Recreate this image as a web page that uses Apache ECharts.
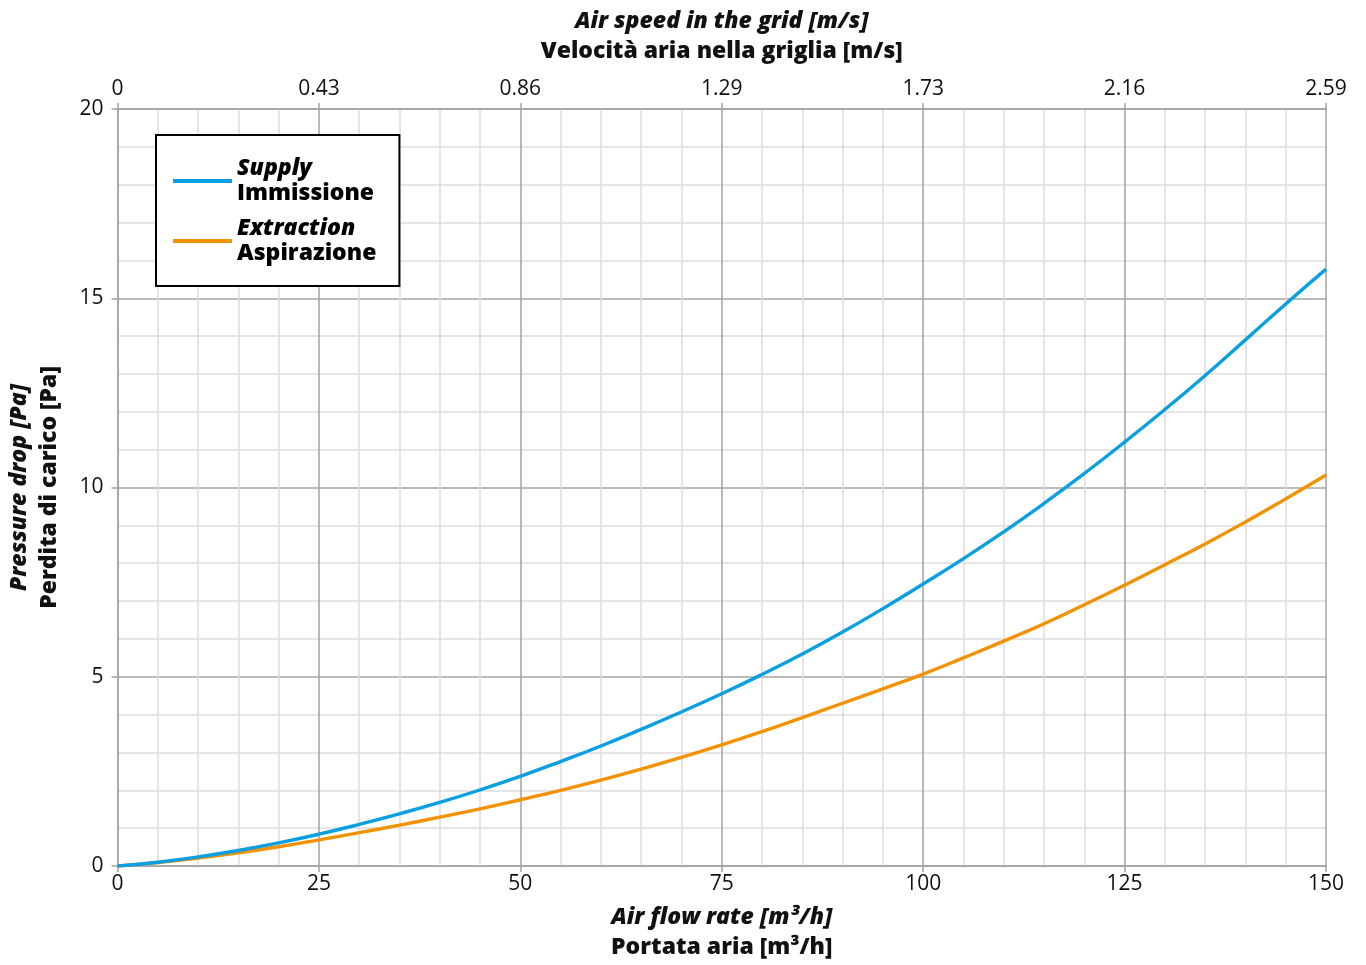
<!DOCTYPE html>
<html>
<head>
<meta charset="utf-8">
<script src="https://cdn.jsdelivr.net/npm/echarts@6/dist/echarts.min.js"></script>
<style>
html,body{margin:0;padding:0;background:#fff;}
#chart{width:1366px;height:965px;}
</style>
</head>
<body>
<div id="chart"></div>
<script>
const flowRates = [0,5,10,15,20,25,30,35,40,45,50,55,60,65,70,75,80,85,90,95,100,105,110,115,120,125,130,135,140,145,150];
const supplyValues = [0,0.1,0.24,0.41,0.61,0.84,1.1,1.38,1.68,2.01,2.37,2.76,3.17,3.61,4.07,4.55,5.06,5.6,6.18,6.8,7.45,8.12,8.83,9.58,10.37,11.2,12.06,12.96,13.9,14.85,15.77];
const extractionValues = [0,0.09,0.21,0.35,0.51,0.69,0.88,1.08,1.29,1.51,1.75,2.0,2.27,2.56,2.87,3.2,3.55,3.92,4.3,4.68,5.07,5.5,5.94,6.4,6.9,7.42,7.96,8.51,9.09,9.7,10.33];
const speedTickLabels = ['0','0.43','0.86','1.29','1.73','2.16','2.59'];
const seriesNames = [['Supply','Immissione'],['Extraction','Aspirazione']];

const FONT = '"Open Sans", "Noto Sans", sans-serif';
const majorLine = {lineStyle:{color:'#a3a3a3', width:1.5}};
const minorLine = {lineStyle:{color:'#dddddd', width:1.5}};

const chart = echarts.init(document.getElementById('chart'), null, {renderer:'canvas'});
const nameRich = {
  a:{fontFamily:FONT, fontSize:23, fontWeight:800, fontStyle:'italic', color:'#111', lineHeight:30},
  b:{fontFamily:FONT, fontSize:23, fontWeight:800, color:'#111', lineHeight:30}
};
chart.setOption({
  animation:false,
  backgroundColor:'#fff',
  grid:{left:116, right:40, top:109, bottom:99, containLabel:false},
  legend:{
    orient:'vertical', left:156, top:135,
    padding:[22,23,21,17],
    backgroundColor:'#fff', borderColor:'#000', borderWidth:2,
    itemWidth:59, itemHeight:4, itemGap:12,
    icon:'rect',
    formatter:function(name){
      const idx = name === seriesNames[0][0] ? 0 : 1;
      return '{a|' + seriesNames[idx][0] + '}\n{b|' + seriesNames[idx][1] + '}';
    },
    textStyle:{
      rich:{
        a:{fontFamily:FONT, fontSize:23, fontWeight:800, fontStyle:'italic', color:'#000', lineHeight:25},
        b:{fontFamily:FONT, fontSize:23, fontWeight:800, color:'#000', lineHeight:25}
      }
    },
    data:[seriesNames[0][0], seriesNames[1][0]]
  },
  xAxis:[
    {
      type:'value', position:'bottom', min:0, max:150, interval:25,
      axisLine:{show:true, lineStyle:{color:'#a3a3a3', width:1.5}},
      axisTick:{show:true, length:6, lineStyle:{color:'#a3a3a3', width:1.5}},
      axisLabel:{fontFamily:FONT, fontSize:21, color:'#111', margin:8},
      splitLine:{show:true, ...majorLine},
      minorTick:{show:false, splitNumber:5},
      minorSplitLine:{show:true, ...minorLine},
      name:'{a|Air flow rate [m³/h]}\n{b|Portata aria [m³/h]}',
      nameLocation:'middle', nameGap:36,
      nameTextStyle:{rich:nameRich}
    },
    {
      type:'value', position:'top', min:0, max:150, interval:25,
      axisLine:{show:true, lineStyle:{color:'#a3a3a3', width:1.5}},
      axisTick:{show:true, length:6, lineStyle:{color:'#a3a3a3', width:1.5}},
      axisLabel:{fontFamily:FONT, fontSize:21, color:'#111', margin:9,
        formatter:function(v){ return speedTickLabels[Math.round(v/25)]; }},
      splitLine:{show:false},
      name:'{a|Air speed in the grid [m/s]}\n{b|Velocità aria nella griglia [m/s]}',
      nameLocation:'middle', nameGap:43,
      nameTextStyle:{rich:nameRich}
    }
  ],
  yAxis:{
    type:'value', min:0, max:20, interval:5,
    axisLine:{show:true, lineStyle:{color:'#a3a3a3', width:1.5}},
    axisTick:{show:true, length:6, lineStyle:{color:'#a3a3a3', width:1.5}},
    axisLabel:{fontFamily:FONT, fontSize:21, color:'#111', margin:14},
    splitLine:{show:true, ...majorLine},
    minorTick:{show:false, splitNumber:5},
    minorSplitLine:{show:true, ...minorLine},
    name:'{a|Pressure drop [Pa]}\n{b|Perdita di carico [Pa]}',
    nameLocation:'middle', nameGap:53, nameRotate:90,
    nameTextStyle:{rich:nameRich}
  },
  series:[
    {
      name:seriesNames[0][0], type:'line', smooth:true, showSymbol:false, symbol:'none',
      xAxisIndex:0,
      color:'#0a9fe0',
      lineStyle:{color:'#0a9fe0', width:3.4},
      data:flowRates.map((x,i)=>[x, supplyValues[i]]),
      z:5
    },
    {
      name:seriesNames[1][0], type:'line', smooth:true, showSymbol:false, symbol:'none',
      xAxisIndex:0,
      color:'#f39200',
      lineStyle:{color:'#f39200', width:3.4},
      data:flowRates.map((x,i)=>[x, extractionValues[i]]),
      z:4
    }
  ]
});
</script>
</body>
</html>
